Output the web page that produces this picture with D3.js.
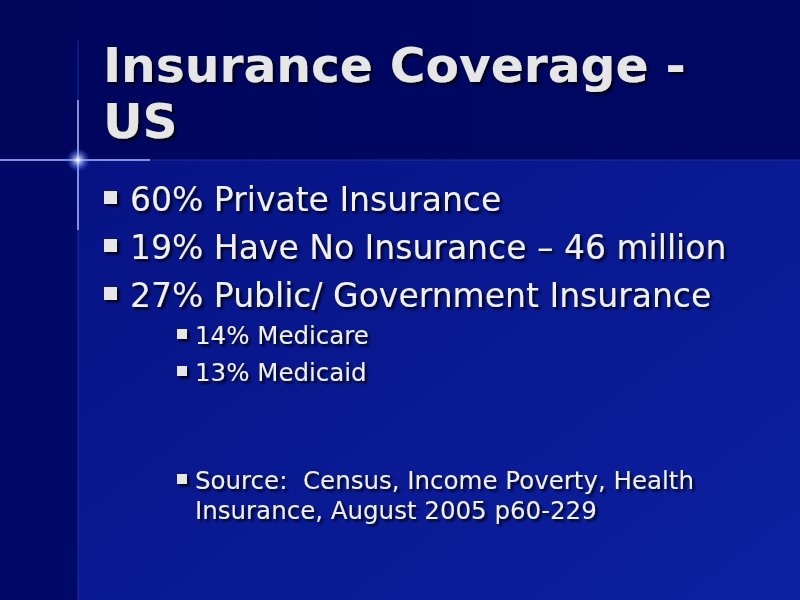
<!DOCTYPE html>
<html><head><meta charset="utf-8">
<script src="https://cdn.jsdelivr.net/npm/d3@7"></script>
<style>body{margin:0;background:#000050}</style></head>
<body><svg id="s" width="800" height="600"></svg>
<script>
const titleLines = ["Insurance Coverage -", "US"];
const bullets = [
  {text:"60% Private Insurance", level:0, y:211},
  {text:"19% Have No Insurance – 46 million", level:0, y:259},
  {text:"27% Public/ Government Insurance", level:0, y:307},
  {text:"14% Medicare", level:1, y:344},
  {text:"13% Medicaid", level:1, y:381},
  {text:"Source:\u00a0 Census, Income Poverty, Health", level:1, y:489},
  {text:"Insurance, August 2005 p60-229", level:1, y:519, cont:true}
];
const svg = d3.select("#s");
const defs = svg.append("defs");
const g1 = defs.append("linearGradient").attr("id","bg").attr("x1",0).attr("y1",0).attr("x2",1).attr("y2",1);
g1.append("stop").attr("offset","0%").attr("stop-color","#06107e");
g1.append("stop").attr("offset","100%").attr("stop-color","#0c20a0");
const g2 = defs.append("linearGradient").attr("id","top").attr("x1",0).attr("y1",0).attr("x2",1).attr("y2",0);
g2.append("stop").attr("offset","0%").attr("stop-color","#00065c");
g2.append("stop").attr("offset","100%").attr("stop-color","#000864");
const rg = defs.append("radialGradient").attr("id","flare");
rg.append("stop").attr("offset","0%").attr("stop-color","#ffffff").attr("stop-opacity",1);
rg.append("stop").attr("offset","100%").attr("stop-color","#4060ff").attr("stop-opacity",0);
const sh = defs.append("filter").attr("id","sh");
sh.append("feDropShadow").attr("dx",2.5).attr("dy",2.5).attr("stdDeviation",0.8).attr("flood-color","#000000").attr("flood-opacity",0.8);

svg.append("rect").attr("width",800).attr("height",600).attr("fill","url(#bg)");
svg.append("rect").attr("width",800).attr("height",160).attr("fill","url(#top)");
svg.append("rect").attr("y",160).attr("width",78).attr("height",440).attr("fill","#000868");
svg.append("line").attr("x1",78).attr("x2",78).attr("y1",40).attr("y2",600).attr("stroke","#3050d0").attr("stroke-width",1).attr("opacity",0.5);
svg.append("line").attr("x1",0).attr("x2",800).attr("y1",160).attr("y2",160).attr("stroke","#3050d0").attr("stroke-width",1).attr("opacity",0.5);
svg.append("line").attr("x1",0).attr("x2",150).attr("y1",160).attr("y2",160).attr("stroke","#a0b8ff").attr("stroke-width",1.5);
svg.append("line").attr("x1",78).attr("x2",78).attr("y1",100).attr("y2",230).attr("stroke","#a0b8ff").attr("stroke-width",1.5);
svg.append("circle").attr("cx",78).attr("cy",160).attr("r",12).attr("fill","url(#flare)");

svg.selectAll("text.t").data(titleLines).join("text").attr("class","t")
  .attr("x",103).attr("y",(d,i)=>82+i*56).text(d=>d)
  .attr("font-family","DejaVu Sans").attr("font-weight","bold").attr("font-size",48.7)
  .attr("fill","#e6e6e6").attr("filter","url(#sh)");

const gb = svg.selectAll("g.b").data(bullets).join("g").attr("class","b").attr("filter","url(#sh)");
gb.filter(d=>!d.cont).append("rect")
  .attr("x",d=>d.level?177:104).attr("y",d=>d.level?d.y-15:d.y-20)
  .attr("width",d=>d.level?10:13).attr("height",d=>d.level?10:13).attr("fill","#e6e6e6");
gb.append("text").attr("x",d=>d.level?195:130).attr("y",d=>d.y).text(d=>d.text)
  .attr("font-family","DejaVu Sans").attr("font-size",d=>d.level?24.5:33).attr("fill","#f0f0f0");
</script></body></html>
